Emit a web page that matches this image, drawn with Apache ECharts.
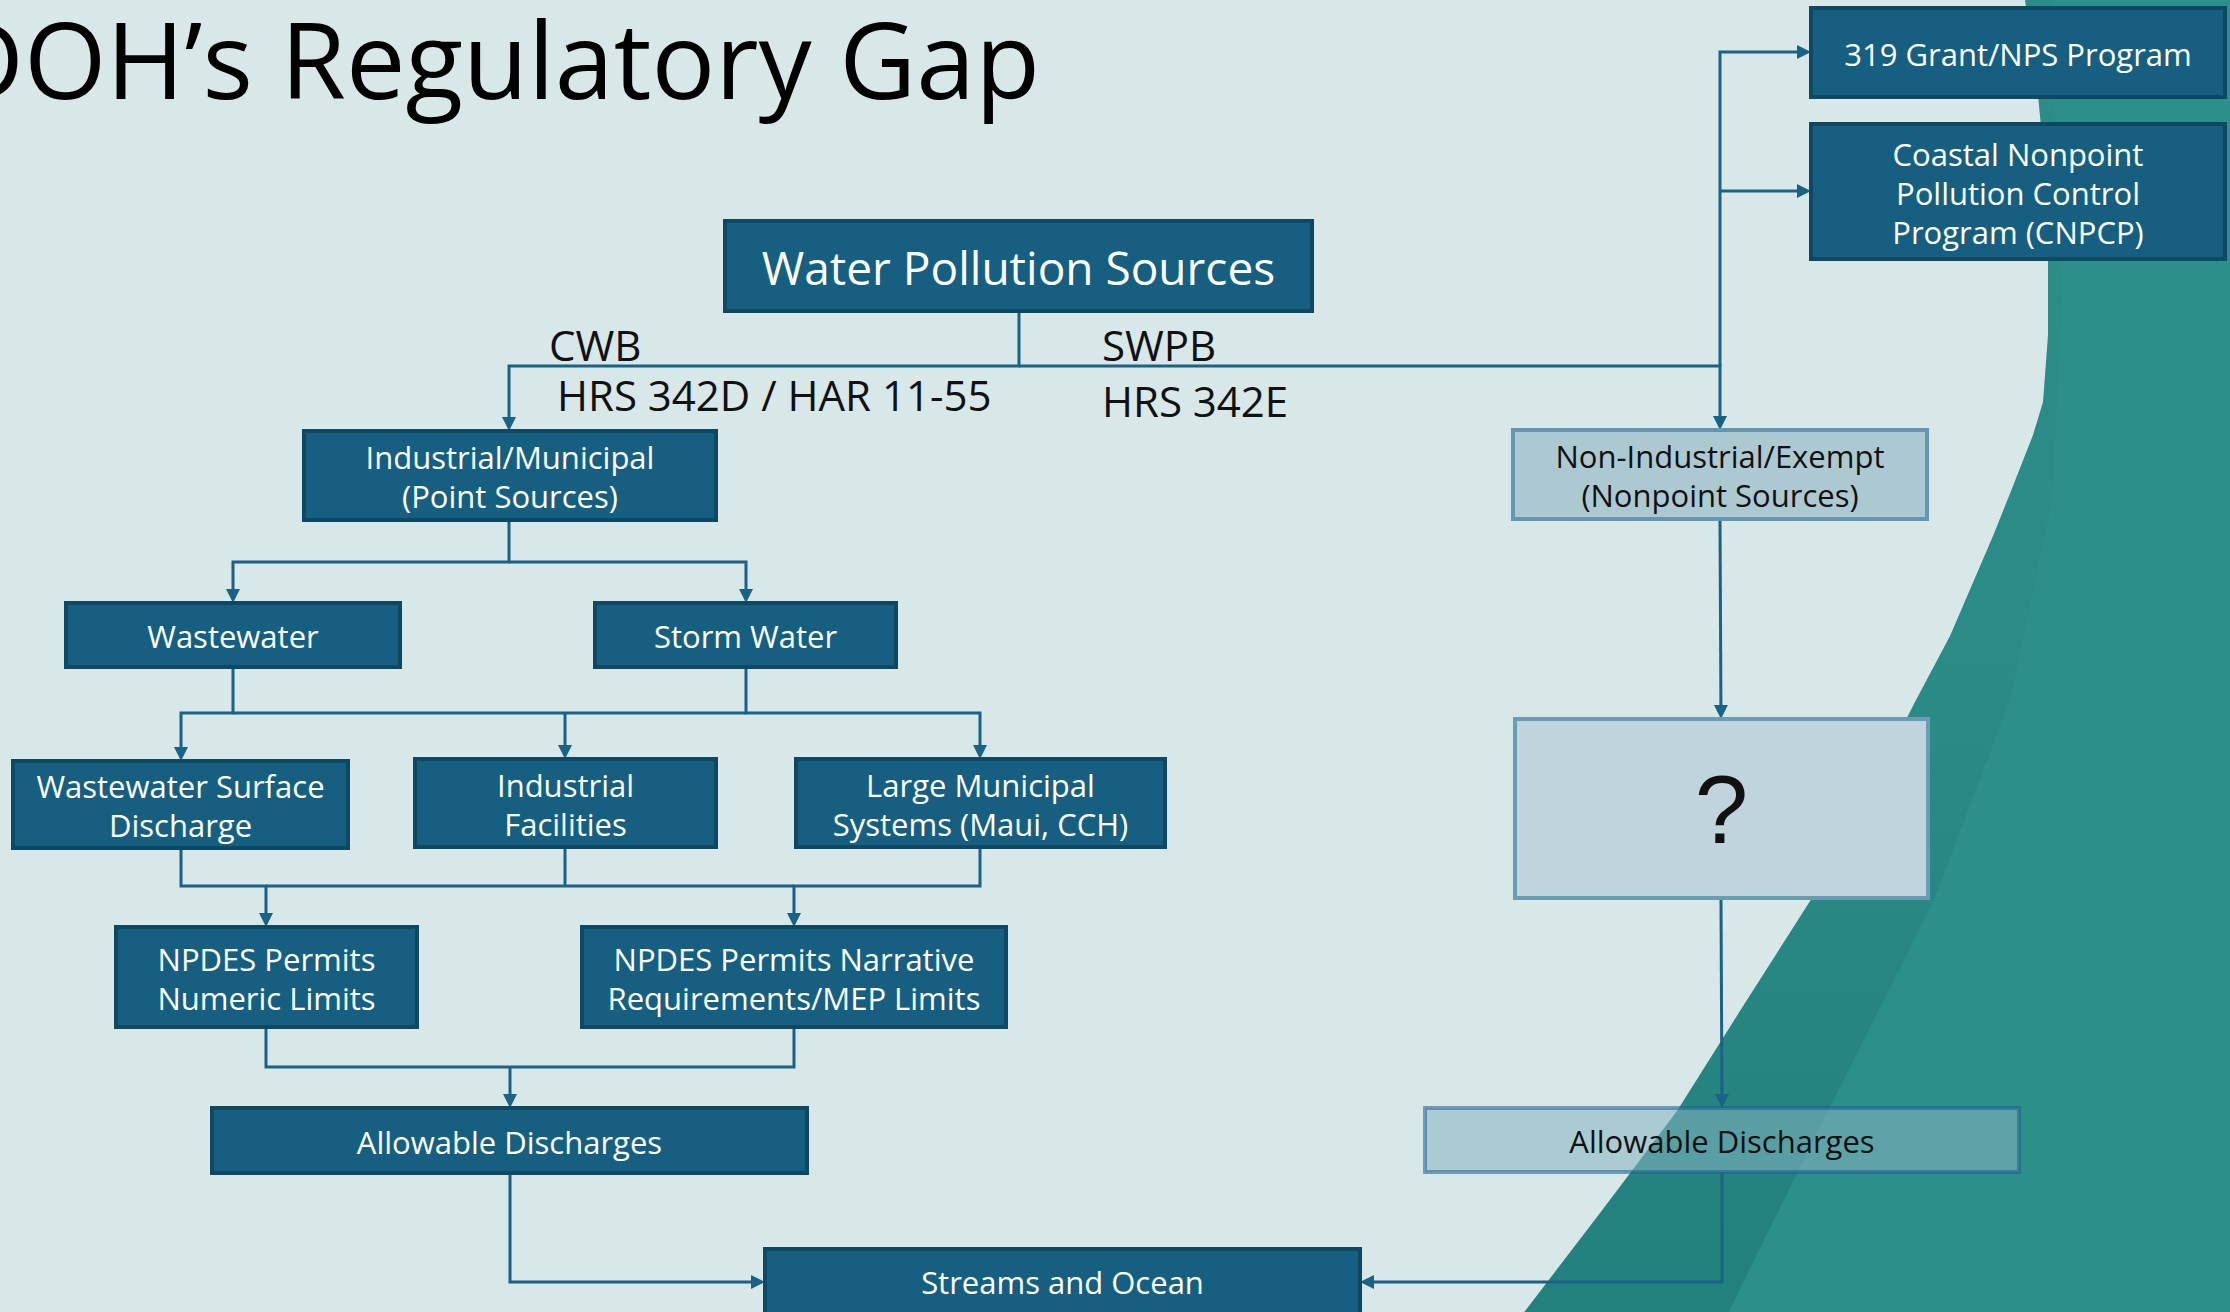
<!DOCTYPE html>
<html lang="en">
<head>
<meta charset="UTF-8">
<title>DOH's Regulatory Gap</title>
<script src="https://cdn.jsdelivr.net/npm/echarts@6/dist/echarts.min.js"></script>
<style>
    html, body { margin: 0; padding: 0; background: #d8e7e8; }
    #main { width: 2230px; height: 1312px; }
</style>
</head>
<body>
<div id="main"></div>
<script>
    var W = 2230, H = 1312;

    // box texts
    var boxLabels = [
        '319 Grant/NPS Program',
        'Coastal Nonpoint\nPollution Control\nProgram (CNPCP)',
        'Water Pollution Sources',
        'Industrial/Municipal\n(Point Sources)',
        'Non-Industrial/Exempt\n(Nonpoint Sources)',
        'Wastewater',
        'Storm Water',
        'Wastewater Surface\nDischarge',
        'Industrial\nFacilities',
        'Large Municipal\nSystems (Maui, CCH)',
        '?',
        'NPDES Permits\nNumeric Limits',
        'NPDES Permits Narrative\nRequirements/MEP Limits',
        'Allowable Discharges',
        'Allowable Discharges',
        'Streams and Ocean'
    ];
    var boxKinds = ['dark', 'dark', 'head', 'dark', 'light', 'dark', 'dark', 'dark', 'dark', 'dark',
                    'query', 'dark', 'dark', 'dark', 'ghost', 'dark'];

    // branch labels
    var sideLabels = ['CWB', 'HRS 342D / HAR 11-55', 'SWPB', 'HRS 342E'];

    // ---- layout (diagram pixel space, y down) ----
    var boxRects = [
        [1811, 8, 2225, 97],
        [1811, 124, 2225, 259],
        [725, 221, 1312, 311],
        [304, 431, 716, 520],
        [1513, 430, 1927, 519],
        [66, 603, 400, 667],
        [595, 603, 896, 667],
        [13, 761, 348, 848],
        [415, 759, 716, 847],
        [796, 759, 1165, 847],
        [1515, 719, 1928, 898],
        [116, 927, 417, 1027],
        [582, 927, 1006, 1027],
        [212, 1108, 807, 1173],
        [1425, 1108, 2019, 1172],
        [765, 1249, 1360, 1330]
    ];
    var sideLabelPos = [[549, 344], [557, 394], [1102, 344], [1102, 400]];

    var linkPaths = [
        [[1019, 311], [1019, 366], [509, 366], [509, 431]],
        [[1019, 366], [1720, 366], [1720, 430]],
        [[1720, 366], [1720, 52], [1811, 52]],
        [[1720, 191], [1811, 191]],
        [[509, 520], [509, 562], [233, 562], [233, 603]],
        [[509, 562], [746, 562], [746, 603]],
        [[233, 667], [233, 713], [181, 713], [181, 761]],
        [[746, 667], [746, 713], [980, 713], [980, 759]],
        [[233, 713], [746, 713]],
        [[565, 713], [565, 759]],
        [[181, 848], [181, 886], [266, 886], [266, 927]],
        [[565, 847], [565, 886]],
        [[980, 847], [980, 886], [794, 886], [794, 927]],
        [[266, 886], [794, 886]],
        [[266, 1027], [266, 1067], [794, 1067], [794, 1027]],
        [[510, 1067], [510, 1108]],
        [[510, 1173], [510, 1282], [765, 1282]],
        [[1720, 519], [1721, 719]],
        [[1721, 898], [1722, 1108]],
        [[1722, 1172], [1722, 1282], [1360, 1282]]
    ];
    var linkArrows = [true, true, true, true, true, true, true, true, false, true,
                      true, false, true, false, false, true, true, true, true, true];

    // right-hand teal backdrop outlines
    var swooshEdge = [[2025, 0], [2037, 84], [2045, 170], [2048, 251], [2048, 335], [2043, 402], [2033, 435],
                      [2013, 486], [1993, 536], [1950, 636], [1916, 700], [1866, 798], [1812, 898],
                      [1745, 1003], [1677, 1111], [1600, 1213], [1522, 1315]];
    var swooshInner = [[2050, 0], [2062, 300], [2052, 500], [2010, 700], [1934, 900],
                       [1820, 1127], [1727, 1315]];

    var lineColor = '#1b6386';
    var font = 'Open Sans';
    var kindStyle = {
        head:  { fill: '#165f80', stroke: '#0e4862', lw: 4, color: '#ffffff', size: 46, font: font },
        dark:  { fill: '#165f80', stroke: '#0e4862', lw: 4, color: '#ffffff', size: 31, font: font },
        light: { fill: '#acc9d2', stroke: '#6396b0', lw: 4, color: '#111111', size: 31, font: font },
        query: { fill: '#bfd4dc', stroke: '#6a9cb4', lw: 4, color: '#111111', size: 96, font: 'Liberation Sans' },
        ghost: { fill: 'rgba(133,180,191,0.55)', stroke: 'rgba(30,95,145,0.55)', lw: 4, color: '#111111', size: 31, font: font }
    };

    function closeRight(edge) {
        return edge.concat([[W, H], [W, 0]]);
    }

    var chart = echarts.init(document.getElementById('main'), null, { renderer: 'svg' });

    function renderBox(params, api) {
        var i = params.dataIndex;
        var r = boxRects[i];
        var p0 = api.coord([r[0], r[1]]);
        var p1 = api.coord([r[2], r[3]]);
        var st = kindStyle[boxKinds[i]];
        return {
            type: 'group',
            children: [{
                type: 'rect',
                shape: { x: p0[0], y: p0[1], width: p1[0] - p0[0], height: p1[1] - p0[1] },
                style: { fill: st.fill, stroke: st.stroke, lineWidth: st.lw }
            }, {
                type: 'text',
                style: {
                    text: boxLabels[i],
                    x: (p0[0] + p1[0]) / 2,
                    y: (p0[1] + Math.min(p1[1], H)) / 2 + 1,
                    align: 'center',
                    verticalAlign: 'middle',
                    fill: st.color,
                    fontSize: st.size,
                    fontFamily: st.font,
                    lineHeight: 39
                }
            }]
        };
    }

    function renderLink(params, api) {
        var i = params.dataIndex;
        var pts = linkPaths[i].map(function (p) { return api.coord(p); });
        var children = [];
        if (linkArrows[i]) {
            var a = pts[pts.length - 1], b = pts[pts.length - 2];
            var dx = a[0] - b[0], dy = a[1] - b[1];
            var len = Math.sqrt(dx * dx + dy * dy);
            var ux = dx / len, uy = dy / len;
            var base = [a[0] - ux * 14, a[1] - uy * 14];
            pts = pts.slice(0, -1).concat([base]);
            children.push({
                type: 'polygon',
                shape: { points: [a, [base[0] - uy * 7, base[1] + ux * 7], [base[0] + uy * 7, base[1] - ux * 7]] },
                style: { fill: lineColor }
            });
        }
        children.unshift({
            type: 'polyline',
            shape: { points: pts },
            style: { stroke: lineColor, lineWidth: 3, fill: null }
        });
        return { type: 'group', children: children };
    }

    function renderSideLabel(params, api) {
        var i = params.dataIndex;
        var p = api.coord(sideLabelPos[i]);
        return {
            type: 'text',
            style: {
                text: sideLabels[i], x: p[0], y: p[1], align: 'left', verticalAlign: 'middle',
                fill: '#111111', fontSize: 42, fontFamily: font, lineHeight: 44
            }
        };
    }

    var option = {
        backgroundColor: '#d8e7e8',
        animation: false,
        grid: { left: 0, right: 0, top: 0, bottom: 0 },
        xAxis: { type: 'value', min: 0, max: W, show: false },
        yAxis: { type: 'value', min: 0, max: H, inverse: true, show: false },
        graphic: [{
            type: 'polygon',
            z: -10,
            shape: { points: closeRight(swooshEdge) },
            style: {
                fill: new echarts.graphic.LinearGradient(0, 0, 0, 1, [
                    { offset: 0, color: '#2c8d88' },
                    { offset: 0.5, color: '#2b8b86' },
                    { offset: 1, color: '#23817d' }
                ])
            }
        }, {
            type: 'polygon',
            z: -9,
            shape: { points: closeRight(swooshInner) },
            style: { fill: '#2d8f8a' }
        }, {
            type: 'text',
            z: 10,
            style: {
                text: 'DOH\u2019s Regulatory Gap', x: 1040, y: 58, align: 'right', verticalAlign: 'middle',
                fill: '#000000', fontSize: 106, fontFamily: font
            }
        }],
        series: [{
            type: 'custom',
            coordinateSystem: 'cartesian2d',
            clip: false,
            z: 2,
            renderItem: renderLink,
            data: linkPaths.map(function (p) { return p[0]; })
        }, {
            type: 'custom',
            coordinateSystem: 'cartesian2d',
            clip: false,
            z: 3,
            renderItem: renderBox,
            data: boxRects.map(function (r) { return [(r[0] + r[2]) / 2, (r[1] + r[3]) / 2]; })
        }, {
            type: 'custom',
            coordinateSystem: 'cartesian2d',
            clip: false,
            z: 3,
            renderItem: renderSideLabel,
            data: sideLabelPos
        }]
    };
    chart.setOption(option);
</script>
</body>
</html>
